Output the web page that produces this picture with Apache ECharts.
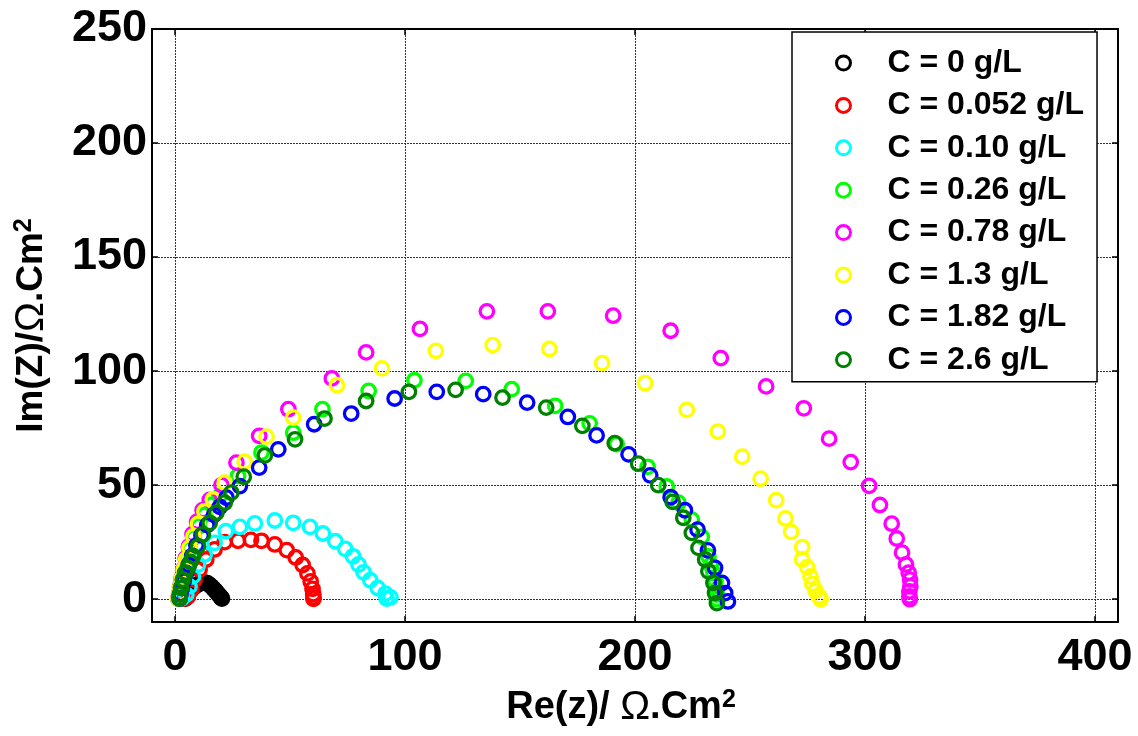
<!DOCTYPE html>
<html>
<head>
<meta charset="utf-8">
<script src="https://cdn.jsdelivr.net/npm/echarts@6/dist/echarts.min.js"></script>
<style>html,body{margin:0;padding:0;background:#fff}#c{width:1138px;height:736px}</style>
</head>
<body>
<div id="c"></div>
<script>
const seriesNames = ['C = 0 g/L','C = 0.052 g/L','C = 0.10 g/L','C = 0.26 g/L','C = 0.78 g/L','C = 1.3 g/L','C = 1.82 g/L','C = 2.6 g/L'];
const seriesColors = ['#000000','#ff0000','#00ffff','#00ff00','#ff00ff','#ffff00','#0000ff','#008000'];
const xTicks = [0,100,200,300,400];
const yTicks = [0,50,100,150,200,250];

const d0 = [[4.5,0.3],[5,1.2],[5.6,2.2],[6.3,3.2],[7.1,4.2],[8,5.1],[9,5.9],[10,6.5],[11,7],[12,7.3],[13,7.3],[14,7],[14.9,6.4],[15.8,5.6],[16.7,4.7],[17.5,3.8],[18.3,2.9],[19,2],[19.6,1.3],[20.1,0.7],[20.4,0.3]];
const d052 = [[4,0.3],[5.6,1.2],[7.1,4.2],[8.5,8.6],[10.7,13],[13.6,17.4],[17.2,21.8],[21.6,25],[27.4,25.6],[33,26],[37.6,25.6],[43.4,24],[48.6,21.5],[52.5,18.3],[55.5,15],[57.6,11.3],[59,7.8],[59.8,4.5],[60.1,2.2],[60.2,0.8],[60.2,0.2]];
const d10 = [[3,0.5],[4.9,2],[6.3,5.6],[7.8,10],[10,15.2],[12.9,19.6],[17.2,24.7],[22.1,29.8],[28.2,31.7],[34.7,33.2],[43.4,34.5],[51.4,33.5],[58.7,31.7],[64.3,28.8],[69.7,25.4],[74,22.1],[77.4,18.8],[79.8,15.2],[82,11.8],[84.9,8.3],[88.1,4.9],[91.5,2.4],[93.7,0.8],[92,0.3]];
const d26 = [[1.5,0.3],[1.9,2.5],[2.4,5.5],[3,9],[3.9,13],[5,17.5],[6.4,22],[8.2,27],[10.4,32],[13,37],[16,41.5],[19.4,45.2],[27.4,54],[37.6,64.3],[51.4,73],[64.1,83.3],[84.2,91.3],[104.1,96],[126.4,95.7],[146.4,92.1],[165.3,84.8],[180.3,77.1],[192,68],[205.5,58],[213.8,49.4],[218.9,42.3],[224.7,34.9],[229,27.3],[231.9,18.8],[233,15],[234.1,11.5],[235,8],[235.6,4.2],[235.6,2],[235.6,0]];
const d78 = [[1.5,0.3],[1.8,2.5],[2.2,5.5],[2.8,9],[3.6,13],[4.7,18],[6,23],[7.6,28.5],[9.6,34],[12,39],[15.1,43.5],[20.2,50],[26.7,59.9],[36.6,71.6],[49.3,83.3],[68.2,96.8],[83.1,108.2],[106.5,118.5],[135.6,126.2],[162.1,126.2],[190.5,124.3],[215.5,117.7],[237.3,105.7],[257,93.3],[273.4,83.7],[284.4,70.4],[293.8,60.1],[301.8,49.7],[306.5,41.3],[311.6,33.1],[313.8,26.6],[316.1,20.4],[317.8,15.2],[319,11.6],[319.6,8.6],[319.7,5.6],[319.3,3.4],[319.3,1.2],[319.5,0]];
const d13 = [[1.5,0.2],[1.8,2.5],[2.3,5.5],[2.9,9],[3.8,13],[4.9,17.5],[6.3,22.5],[8,27.5],[10,33],[12.8,38.5],[16.5,43.7],[21.6,51.1],[30.3,60.3],[39.8,71.3],[51.4,79.6],[70.4,93.8],[90,101.2],[113.4,108.9],[138.1,111.4],[162.8,109.7],[185.7,103.5],[204.4,94.7],[222.5,83],[236,73.5],[246.6,62.5],[254.6,52.8],[261.4,43.4],[265.4,35.4],[267.9,29.5],[272.7,22.8],[272.7,17.4],[274.9,14],[276.3,10],[277.1,6.7],[278.5,3.7],[280,1.2],[280.7,0]];
const d182 = [[2,0.3],[2.4,2.3],[3,5],[3.8,8],[4.8,11.5],[6,15],[7.5,19],[9.3,23.5],[11.5,28],[14,32.5],[17,37],[19.5,40.5],[22.4,44.5],[28.2,49.6],[36.6,57.7],[44.9,65.7],[60.5,76.7],[76.6,81.4],[95.5,88],[113.8,90.9],[134,89.9],[153.1,86.2],[170.8,79.9],[183.3,71.8],[197.2,63.5],[206.6,54.3],[215.5,44.7],[221.7,39],[227.2,30.5],[231.7,21.4],[234.8,13.7],[237.8,7.1],[239.2,2.7],[240.4,-1]];
const d26b = [[2,0.3],[2,2],[2.6,5],[3.4,8.6],[4.4,11.5],[5.6,13.7],[6.7,16.3],[7.8,18.8],[10,23.2],[12.1,28.4],[15.1,33.5],[18,37.9],[21.6,42.3],[24.5,46.7],[29.9,53.7],[39.1,63.1],[52.2,70.1],[65,79.2],[83.1,86.9],[101.7,90.9],[122,91.8],[142.4,88.4],[161.4,84],[177.1,76],[191.2,68.4],[201.4,59.4],[210.1,50],[216.4,42.7],[221,35.7],[224.7,29.1],[227.6,22.5],[230.5,17.4],[231.9,12.2],[234.1,7.1],[234.8,2.7],[235.6,-1.7]];
const seriesData = [d0,d052,d10,d26,d78,d13,d182,d26b];

const FF = '"Liberation Sans", Arial, sans-serif';
const chart = echarts.init(document.getElementById('c'), null, {renderer:'canvas'});

const tickInside = (vals) => ({show:true, inside:true, length:6, customValues:vals, lineStyle:{color:'#000', width:1.5}});
const splitL = {show:true, lineStyle:{color:'#333', width:1, type:[2,1]}};
const mkRich = (fs, ofs, ss) => ({
  a:{fontFamily:FF, fontWeight:'bold', fontSize:fs, color:'#000'},
  o:{fontFamily:FF, fontWeight:'normal', fontSize:ofs, color:'#000'},
  s:{fontFamily:FF, fontWeight:'bold', fontSize:ss, color:'#000', verticalAlign:'top'}
});

chart.setOption({
  animation:false,
  backgroundColor:'#fff',
  grid:{left:152, top:29, right:20, bottom:114, containLabel:false},
  legend:{
    orient:'vertical', left:792, top:32,
    backgroundColor:'#fff', borderColor:'#000', borderWidth:1.5,
    padding:[15,13,6,43],
    itemWidth:14, itemHeight:14, itemGap:10.4,
    icon:'circle',
    itemStyle:{color:'rgba(0,0,0,0)', borderWidth:3},
    textStyle:{fontFamily:FF, fontWeight:'bold', fontSize:32, lineHeight:32, color:'#000', padding:[0,0,0,32]},
    data:seriesNames
  },
  xAxis:[{
    type:'value', min:-10, max:410, position:'bottom',
    name:'{a|Re(z)/ }{o|Ω}{a|.Cm}{s|2}', nameLocation:'middle', nameGap:66,
    nameTextStyle:{rich:mkRich(38,40,25), padding:[0,28,0,0]},
    axisLine:{show:true, onZero:false, lineStyle:{color:'#000', width:2}},
    axisTick:tickInside(xTicks),
    axisLabel:{customValues:xTicks, margin:13, fontFamily:FF, fontWeight:'bold', fontSize:45, color:'#000'},
    splitLine:splitL
  },{
    type:'value', min:-10, max:410, position:'top',
    axisLine:{show:true, onZero:false, lineStyle:{color:'#000', width:2}},
    axisTick:tickInside(xTicks),
    axisLabel:{show:false}, splitLine:{show:false}
  }],
  yAxis:[{
    type:'value', min:-10, max:250, position:'left',
    name:'{a|Im(Z)/}{o|Ω}{a|.Cm}{s|2}', nameLocation:'middle', nameGap:100, nameRotate:90,
    nameTextStyle:{rich:mkRich(37,40,25)},
    axisLine:{show:true, onZero:false, lineStyle:{color:'#000', width:2}},
    axisTick:tickInside(yTicks),
    axisLabel:{customValues:yTicks, margin:5, fontFamily:FF, fontWeight:'bold', fontSize:45, color:'#000'},
    splitLine:splitL
  },{
    type:'value', min:-10, max:250, position:'right',
    axisLine:{show:true, onZero:false, lineStyle:{color:'#000', width:2}},
    axisTick:tickInside(yTicks),
    axisLabel:{show:false}, splitLine:{show:false}
  }],
  series: seriesNames.map((n,i)=>({
    name:n, type:'scatter', xAxisIndex:0, yAxisIndex:0,
    data:seriesData[i], symbol:'circle', symbolSize:13.5,
    itemStyle:{color:'rgba(0,0,0,0)', borderColor:seriesColors[i], borderWidth:3.3, opacity:1},
    emphasis:{disabled:true}
  }))
});
</script>
</body>
</html>
